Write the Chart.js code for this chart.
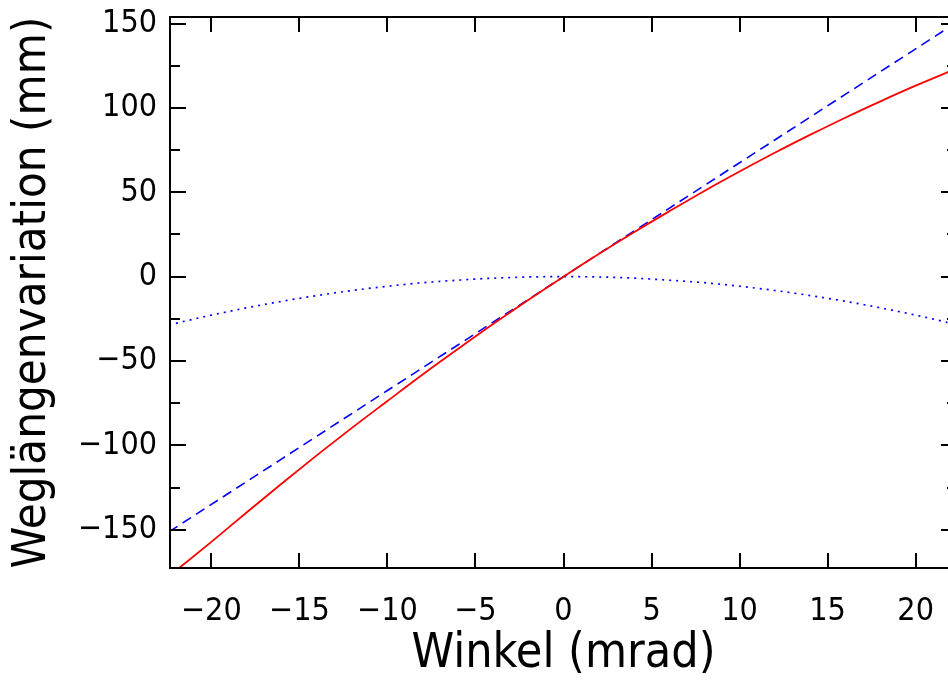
<!DOCTYPE html>
<html>
<head>
<meta charset="utf-8">
<script src="https://cdn.jsdelivr.net/npm/chart.js@4.4.1/dist/chart.umd.min.js"></script>
<style>
  html, body { margin: 0; padding: 0; background: #fff; overflow: hidden; }
  #wrap { width: 948px; height: 685px; overflow: hidden; }
</style>
</head>
<body>
<div id="wrap"><canvas id="pathChart" width="965" height="685"></canvas></div>
<script>
// angle in mrad, path length change in mm
const angles     = [-22.4, -20, -18, -16, -14, -12, -10, -8, -6, -4, -2, 0, 2, 4, 6, 8, 10, 12, 14, 16, 18, 20, 22.4];
const exactPath  = [-177.5, -157.2, -139.8, -122.6, -105.8, -89.5, -73.7, -58.0, -42.9, -28.1, -13.8, 0, 13.4, 26.3, 38.7, 50.8, 62.3, 73.4, 84.0, 94.2, 103.9, 113.2, 123.7];
const linearPath = [-151.2, -135.0, -121.5, -108.0, -94.5, -81.0, -67.5, -54.0, -40.5, -27.0, -13.5, 0, 13.5, 27.0, 40.5, 54.0, 67.5, 81.0, 94.5, 108.0, 121.5, 135.0, 151.2];
const quadPath   = [-28.6, -22.8, -18.5, -14.6, -11.2, -8.2, -5.7, -3.6, -2.1, -0.9, -0.2, 0, -0.2, -0.9, -2.1, -3.6, -5.7, -8.2, -11.2, -14.6, -18.5, -22.8, -28.6];

const xTickValues = [-20, -15, -10, -5, 0, 5, 10, 15, 20];
const yTickValues = [-150, -100, -50, 0, 50, 100, 150];
const yMinorValues = [-125, -75, -25, 25, 75, 125];

const TICK_FONT = "'Liberation Sans Narrow', 'DejaVu Sans Condensed', sans-serif";
const TITLE_FONT = "'DejaVu Sans Condensed', 'DejaVu Sans', sans-serif";

function toPoints(ys) {
  return angles.map((a, i) => ({ x: a, y: ys[i] }));
}

function minus(v) {
  return String(v).replace('-', '\u2212');
}

// box around the plot with inward tick marks on all four sides
const frameTicks = {
  id: 'frameTicks',
  afterDraw(chart) {
    const ctx = chart.ctx;
    const a = chart.chartArea;
    const xs = chart.scales.x;
    const ys = chart.scales.y;
    ctx.save();
    ctx.strokeStyle = '#000';
    ctx.lineWidth = 2;
    ctx.strokeRect(a.left, a.top, a.right - a.left, a.bottom - a.top);
    ctx.beginPath();
    xTickValues.forEach(v => {
      const px = Math.round(xs.getPixelForValue(v));
      ctx.moveTo(px, a.bottom); ctx.lineTo(px, a.bottom - 15);
      ctx.moveTo(px, a.top); ctx.lineTo(px, a.top + 15);
    });
    yTickValues.forEach(v => {
      const py = Math.round(ys.getPixelForValue(v));
      ctx.moveTo(a.left, py); ctx.lineTo(a.left + 16, py);
      ctx.moveTo(a.right, py); ctx.lineTo(a.right - 16, py);
    });
    yMinorValues.forEach(v => {
      const py = Math.round(ys.getPixelForValue(v));
      ctx.moveTo(a.left, py); ctx.lineTo(a.left + 10, py);
      ctx.moveTo(a.right, py); ctx.lineTo(a.right - 10, py);
    });
    ctx.stroke();
    ctx.restore();
  }
};

const ctx = document.getElementById('pathChart').getContext('2d');
new Chart(ctx, {
  type: 'scatter',
  data: {
    datasets: [
      {
        label: 'exakt',
        data: toPoints(exactPath),
        showLine: true,
        borderColor: '#ff0000',
        borderWidth: 1.8,
        pointRadius: 0,
        cubicInterpolationMode: 'monotone'
      },
      {
        label: 'linear',
        data: toPoints(linearPath),
        showLine: true,
        borderColor: '#0000ff',
        borderWidth: 1.6,
        borderDash: [10, 6],
        pointRadius: 0
      },
      {
        label: 'quadratisch',
        data: toPoints(quadPath),
        showLine: true,
        borderColor: '#0000ff',
        borderWidth: 1.7,
        borderDash: [2, 5],
        pointRadius: 0,
        cubicInterpolationMode: 'monotone'
      }
    ]
  },
  options: {
    responsive: false,
    animation: false,
    devicePixelRatio: 1,
    layout: { padding: { top: 17, right: 8, left: 0, bottom: 0 } },
    plugins: {
      legend: { display: false },
      tooltip: { enabled: false }
    },
    scales: {
      x: {
        type: 'linear',
        min: -22.35,
        max: 22.35,
        grid: { display: false, drawTicks: false },
        border: { display: false },
        afterBuildTicks: scale => { scale.ticks = xTickValues.map(v => ({ value: v })); },
        afterFit: scale => {
          scale.height = 117;
          scale.paddingLeft = 0;
          scale.paddingRight = 0;
        },
        ticks: {
          color: '#000',
          padding: 24,
          maxRotation: 0,
          autoSkip: false,
          font: { family: TICK_FONT, size: 32 },
          callback: v => minus(v)
        },
        title: {
          display: true,
          text: 'Winkel (mrad)',
          color: '#000',
          font: { family: TITLE_FONT, size: 48 },
          padding: { top: 0, bottom: 2 }
        }
      },
      y: {
        min: -172.7,
        max: 153.9,
        grid: { display: false, drawTicks: false },
        border: { display: false },
        afterBuildTicks: scale => { scale.ticks = yTickValues.map(v => ({ value: v })); },
        afterFit: scale => {
          scale.width = 170;
          scale.paddingTop = 0;
          scale.paddingBottom = 0;
        },
        ticks: {
          color: '#000',
          padding: 13,
          autoSkip: false,
          font: { family: TICK_FONT, size: 32 },
          callback: v => minus(v)
        },
        title: {
          display: true,
          text: 'Weglängenvariation (mm)',
          color: '#000',
          font: { family: TITLE_FONT, size: 47 },
          padding: { top: 5, bottom: 0 }
        }
      }
    }
  },
  plugins: [frameTicks]
});
</script>
</body>
</html>
